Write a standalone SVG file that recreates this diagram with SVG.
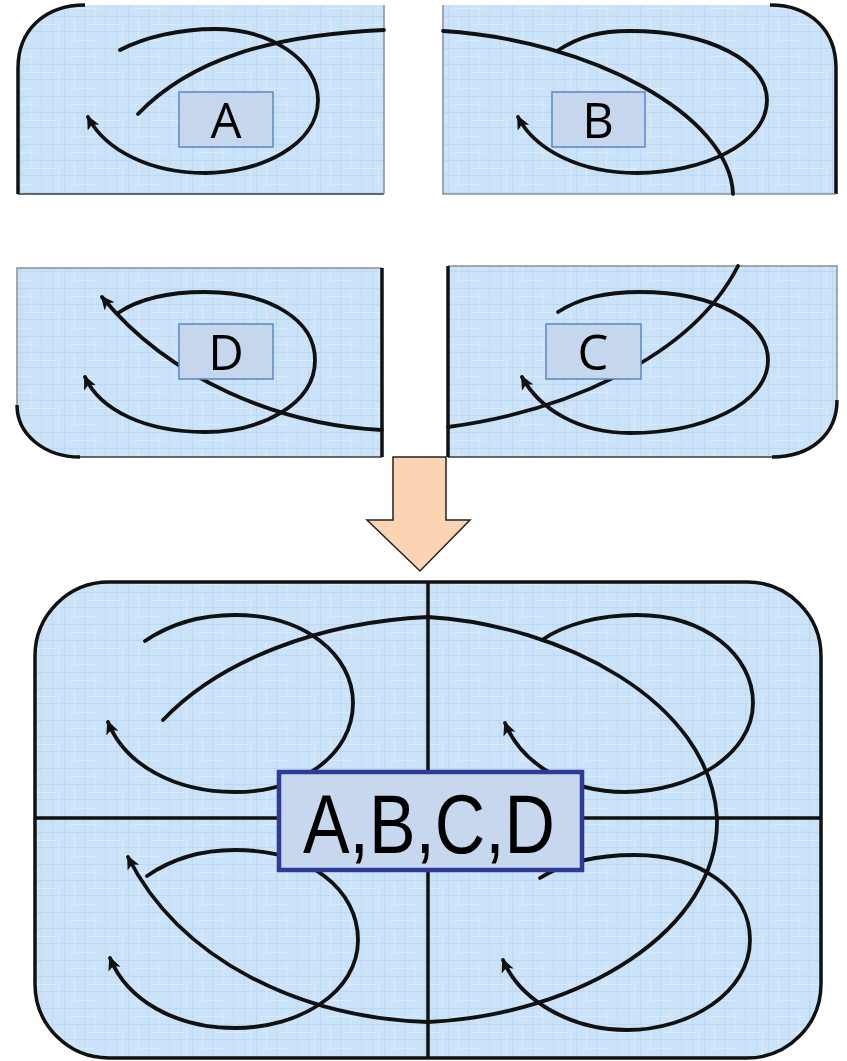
<svg xmlns="http://www.w3.org/2000/svg" width="847" height="1061" viewBox="0 0 847 1061">
  <defs>
    <!-- faint blueprint-like grid used as panel fill -->
    <pattern id="grid" width="64" height="48" patternUnits="userSpaceOnUse">
      <rect width="64" height="48" fill="#cbe3f9"/>
      <path d="M0,0.5H64M0,16.5H64M0,31.5H64M0.5,0V48M20.5,0V48M41.5,0V48M52.5,0V48" stroke="#bfd8f1" stroke-width="1"/>
      <path d="M4,8.5H36M24,24.5H60M6,40.5H30M10.5,18V44M30.5,4V26M58.5,20V46" stroke="#d9ebfb" stroke-width="1.2"/>
    </pattern>
    <marker id="head" markerUnits="userSpaceOnUse" markerWidth="18" markerHeight="14" refX="12" refY="6.5" orient="auto">
      <path d="M0,0 L14,6.5 L0,13 L3.5,6.5 Z" fill="#111"/>
    </marker>
    <style>
      .bg { fill: url(#grid); stroke: none; }
      .edge { fill: none; stroke: #111; stroke-width: 3.5; }
      .cut { fill: none; stroke: #8a8f96; stroke-width: 1.5; }
      .cutdark { fill: none; stroke: #3a3a3a; stroke-width: 1.5; }
      .curve { fill: none; stroke: #111; stroke-width: 3.8; stroke-linecap: round; }
      .arrow { marker-end: url(#head); }
      .tag { fill: #c6d6ec; stroke: #5b87c5; stroke-width: 1.5; }
      .tagtext { font-family: "Open Sans", "Noto Sans", sans-serif; font-size: 49px; fill: #000; text-anchor: middle; }
      .big { fill: #c6d7ee; stroke: #2e3a94; stroke-width: 4.5; }
      .bigtext { font-family: "Liberation Sans", Arial, sans-serif; font-size: 84px; fill: #000; }
    </style>
  </defs>

  <!-- quadrant A: top-left -->
  <g id="panel-a">
    <path class="bg" d="M18,194 V68 C18,30 45,5 85,5 H384 V194 Z"/>
    <path class="edge" d="M85,5 C45,5 18,30 18,68 V194"/>
    <path class="cutdark" d="M18,194 H384"/>
    <path class="cut" d="M384,194 V5"/>
  </g>

  <!-- quadrant B: top-right -->
  <g id="panel-b">
    <path class="bg" d="M443,5 H770 C810,5 836,30 836,68 V194 H443 Z"/>
    <path class="edge" d="M770,5 C810,5 836,30 836,68 V194"/>
    <path class="cut" d="M836,194 H443 V5"/>
  </g>

  <!-- quadrant D: bottom-left -->
  <g id="panel-d">
    <path class="bg" d="M17,268 H382 V457 H80 C45,457 17,435 17,405 Z"/>
    <path class="cut" d="M17,405 V268 H382"/>
    <path class="cutdark" d="M80,457 H382"/>
    <path class="edge" d="M382,268 V457"/>
    <path class="edge" d="M17,405 C17,435 45,457 80,457"/>
  </g>

  <!-- quadrant C: bottom-right -->
  <g id="panel-c">
    <path class="bg" d="M448,266 H837 V400 C837,435 810,457 772,457 H448 Z"/>
    <path class="cut" d="M448,266 H837 V400"/>
    <path class="cutdark" d="M772,457 H448"/>
    <path class="edge" d="M448,266 V457"/>
    <path class="edge" d="M837,400 C837,435 810,457 772,457"/>
  </g>

  <!-- block arrow pointing down to the combined view -->
  <g id="down-arrow">
    <polygon points="393,457 446,457 446,520 470,520 420,571 367,520 393,520" fill="#fbd4b4" stroke="#222" stroke-width="1.5"/>
  </g>

  <!-- combined view with its quadrant dividers -->
  <g id="panel-combined">
    <rect class="bg" x="35" y="582" width="786" height="476" rx="74" ry="74"/>
    <path class="edge" d="M428,582 V1058 M35,818 H821" stroke-width="3"/>
    <rect class="edge" x="35" y="582" width="786" height="476" rx="74" ry="74"/>
  </g>

  <g id="connectors">
    <!-- A -->
    <path class="curve arrow" d="M120,50 C145,37 180,29 215,29 C270,29 318,60 318,100 C318,145 260,173 205,173 C150,173 105,150 88,117"/>
    <path class="curve" d="M138,114 C190,60 270,35 384,30"/>
    <!-- B -->
    <path class="curve" d="M443,31 C590,40 730,115 733,194"/>
    <path class="curve arrow" d="M557,51 C580,36 600,31 630,31 C710,31 767,62 767,100 C767,145 700,173 637,173 C580,173 535,150 518,117"/>
    <!-- D -->
    <path class="curve arrow" d="M118,313 C140,298 170,292 205,292 C270,292 315,320 315,360 C315,405 260,432 205,432 C145,432 100,410 85,377"/>
    <path class="curve arrow" d="M382,430 C280,425 170,380 102,297"/>
    <!-- C -->
    <path class="curve" d="M448,427 C560,412 690,360 738,266"/>
    <path class="curve arrow" d="M558,312 C580,298 605,292 640,292 C715,292 768,322 768,360 C768,405 700,433 630,433 C580,433 540,410 522,377"/>
    <!-- combined: four loops -->
    <path class="curve arrow" d="M145,641 C170,624 200,615 235,615 C305,615 353,655 353,703 C353,755 300,792 235,792 C175,792 125,765 108,722"/>
    <path class="curve arrow" d="M542,640 C565,624 600,615 637,615 C705,615 753,655 753,703 C753,755 690,792 625,792 C570,792 522,765 505,723"/>
    <path class="curve arrow" d="M147,876 C170,860 200,850 235,850 C310,850 358,890 358,940 C358,992 300,1028 235,1028 C175,1028 127,1000 110,958"/>
    <path class="curve arrow" d="M540,878 C565,862 600,855 635,855 C700,855 750,890 750,940 C750,992 690,1030 627,1030 C570,1030 520,1000 503,960"/>
    <!-- combined: outer sweep through all quadrants -->
    <path class="curve arrow" d="M163,720 C220,660 320,622 428,617 C560,625 710,700 717,818 C720,930 580,1015 428,1022 C300,1018 180,960 128,857"/>
  </g>

  <g id="label-a">
    <rect class="tag" x="179" y="92" width="94" height="55"/>
    <text class="tagtext" x="226" y="138">A</text>
  </g>
  <g id="label-b">
    <rect class="tag" x="552" y="92" width="93" height="55"/>
    <text class="tagtext" x="598" y="138">B</text>
  </g>
  <g id="label-d">
    <rect class="tag" x="179" y="324" width="94" height="55"/>
    <text class="tagtext" x="226" y="370">D</text>
  </g>
  <g id="label-c">
    <rect class="tag" x="546" y="324" width="95" height="55"/>
    <text class="tagtext" x="593" y="370">C</text>
  </g>
  <g id="label-combined">
    <rect class="big" x="279" y="772" width="303" height="98"/>
    <text class="bigtext" x="303" y="853" textLength="252" lengthAdjust="spacingAndGlyphs">A,B,C,D</text>
  </g>
</svg>
